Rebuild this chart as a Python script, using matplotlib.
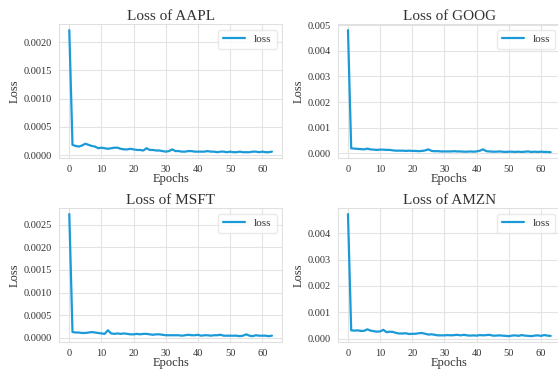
"""Training loss curves for the four stock models."""

import matplotlib
matplotlib.use("Agg")
import matplotlib.pyplot as plt
import numpy as np
import seaborn as sns

tickers = ["AAPL", "GOOG", "MSFT", "AMZN"]

loss_aapl = [
    0.00221, 0.00018, 0.00016, 0.00015, 0.00017, 0.00020, 0.00018, 0.00016,
    0.00015, 0.00012, 0.00013, 0.00012, 0.00011, 0.00012, 0.00013, 0.00013,
    0.00011, 0.00010, 0.00010, 0.00011, 0.00010, 0.00009, 0.00009, 0.00008,
    0.00012, 0.00009, 0.00009, 0.00008, 0.00008, 0.00007, 0.00006, 0.00007,
    0.00010, 0.00007, 0.00007, 0.00006, 0.00006, 0.00007, 0.00007, 0.00006,
    0.00006, 0.00006, 0.00006, 0.00007, 0.00006, 0.00006, 0.00005, 0.00006,
    0.00006, 0.00005, 0.00006, 0.00005, 0.00005, 0.00006, 0.00005, 0.00005,
    0.00005, 0.00006, 0.00006, 0.00005, 0.00006, 0.00005, 0.00005, 0.00006,
]
loss_goog = [
    0.00480, 0.00020, 0.00019, 0.00018, 0.00017, 0.00016, 0.00019, 0.00016,
    0.00015, 0.00014, 0.00015, 0.00015, 0.00014, 0.00014, 0.00012, 0.00011,
    0.00011, 0.00011, 0.00010, 0.00011, 0.00010, 0.00010, 0.00009, 0.00010,
    0.00012, 0.00016, 0.00010, 0.00009, 0.00009, 0.00008, 0.00008, 0.00008,
    0.00008, 0.00009, 0.00008, 0.00008, 0.00007, 0.00007, 0.00008, 0.00007,
    0.00008, 0.00011, 0.00016, 0.00009, 0.00008, 0.00007, 0.00007, 0.00008,
    0.00007, 0.00006, 0.00007, 0.00007, 0.00006, 0.00007, 0.00006, 0.00007,
    0.00008, 0.00006, 0.00007, 0.00006, 0.00007, 0.00006, 0.00006, 0.00005,
]
loss_msft = [
    0.00273, 0.00013, 0.00012, 0.00012, 0.00011, 0.00011, 0.00012, 0.00013,
    0.00012, 0.00011, 0.00010, 0.00009, 0.00017, 0.00010, 0.00009, 0.00010,
    0.00009, 0.00010, 0.00009, 0.00008, 0.00008, 0.00009, 0.00008, 0.00009,
    0.00009, 0.00008, 0.00007, 0.00008, 0.00008, 0.00007, 0.00006, 0.00006,
    0.00006, 0.00006, 0.00006, 0.00005, 0.00006, 0.00007, 0.00006, 0.00006,
    0.00007, 0.00005, 0.00006, 0.00006, 0.00005, 0.00006, 0.00006, 0.00007,
    0.00005, 0.00005, 0.00005, 0.00005, 0.00005, 0.00004, 0.00005, 0.00008,
    0.00005, 0.00004, 0.00006, 0.00005, 0.00005, 0.00005, 0.00004, 0.00005,
]
loss_amzn = [
    0.00473, 0.00031, 0.00030, 0.00031, 0.00029, 0.00029, 0.00035, 0.00030,
    0.00028, 0.00026, 0.00027, 0.00033, 0.00024, 0.00026, 0.00025, 0.00021,
    0.00019, 0.00019, 0.00020, 0.00017, 0.00018, 0.00018, 0.00020, 0.00021,
    0.00018, 0.00015, 0.00016, 0.00014, 0.00012, 0.00012, 0.00012, 0.00013,
    0.00012, 0.00013, 0.00014, 0.00012, 0.00014, 0.00012, 0.00011, 0.00012,
    0.00011, 0.00013, 0.00012, 0.00013, 0.00014, 0.00011, 0.00011, 0.00012,
    0.00011, 0.00010, 0.00009, 0.00011, 0.00012, 0.00010, 0.00013, 0.00011,
    0.00010, 0.00009, 0.00011, 0.00012, 0.00010, 0.00013, 0.00011, 0.00010,
]

losses = [loss_aapl, loss_goog, loss_msft, loss_amzn]
line_color = "#1b9ad8"

sns.set_style("whitegrid")
plt.rcParams["font.family"] = ["Liberation Serif", "DejaVu Serif"]
plt.rcParams["text.color"] = "#333333"
plt.rcParams["axes.labelcolor"] = "#333333"
plt.rcParams["xtick.color"] = "#333333"
plt.rcParams["ytick.color"] = "#333333"

fig, axes = plt.subplots(2, 2, figsize=(5.58, 3.70), dpi=100)
fig.subplots_adjust(left=0.106, right=1.005, top=0.935, bottom=0.075,
                    wspace=0.25, hspace=0.37)

for ax, ticker, loss in zip(axes.flat, tickers, losses):
    epochs = np.arange(len(loss))
    ax.plot(epochs, loss, color=line_color, linewidth=1.6, label="loss")
    ax.set_title(f"Loss of {ticker}", fontsize=11, pad=3)
    ax.set_xlabel("Epochs", fontsize=9, labelpad=-1)
    ax.set_ylabel("Loss", fontsize=9, labelpad=2)
    ax.tick_params(labelsize=7.5, pad=1.5)
    ax.grid(True, color="#e3e3e3", linewidth=0.8)
    for spine in ax.spines.values():
        spine.set_color("#e0e0e0")
    ax.legend(loc="upper right", fontsize=8, frameon=True, handlelength=2.0,
              borderpad=0.45, edgecolor="#e5e5e5")

fig.savefig("out.png", dpi=100)
